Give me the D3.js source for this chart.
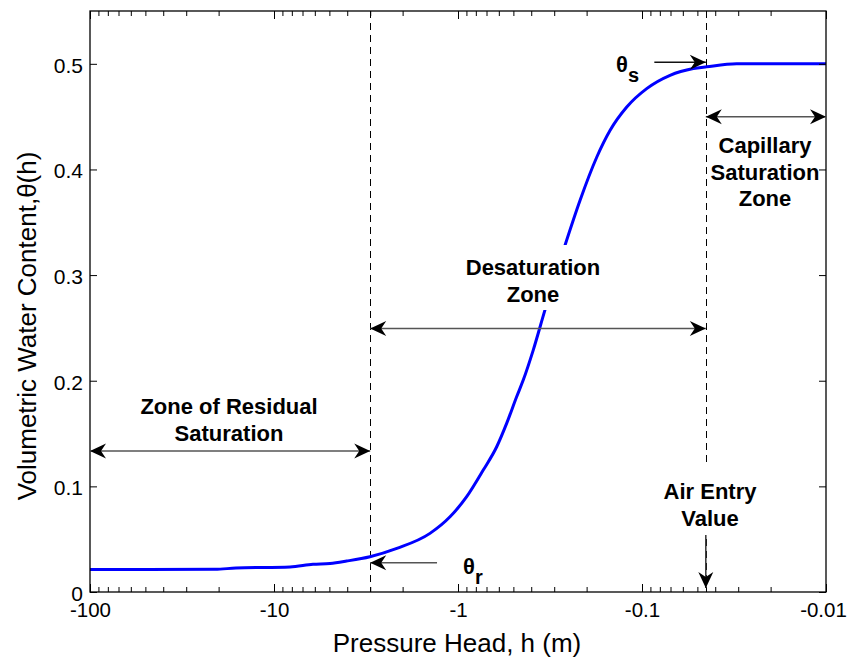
<!DOCTYPE html>
<html><head><meta charset="utf-8">
<script src="https://cdn.jsdelivr.net/npm/d3@7/dist/d3.min.js"></script>
<style>body{margin:0;background:#fff} svg{display:block}</style>
</head><body>
<svg id="c" width="847" height="657"></svg>
<script>
// ---- data ----
const pressureHead = [-100, -20.9, -16.1, -8.18, -6.14, -4.96, -4.03, -3.01, -2.15, -1.42, -1.105, -0.897, -0.729, -0.616, -0.544, -0.480, -0.442, -0.390, -0.337, -0.262, -0.217, -0.176, -0.149, -0.121, -0.0943, -0.0704, -0.0526, -0.0445, -0.0306, -0.01];
const waterContent = [0.0213, 0.0215, 0.0227, 0.0237, 0.0262, 0.0270, 0.0293, 0.0334, 0.0413, 0.0555, 0.0712, 0.0902, 0.1154, 0.1375, 0.1596, 0.1848, 0.2006, 0.2290, 0.2668, 0.3283, 0.3709, 0.4118, 0.4371, 0.4591, 0.4765, 0.4891, 0.4955, 0.4972, 0.5000, 0.5000];
const xTickValues = [-100, -10, -1, -0.1, -0.01];
const xTickLabels = ["-100", "-10", "-1", "-0.1", "-0.01"];
const yTickValues = [0, 0.1, 0.2, 0.3, 0.4, 0.5];
const yTickLabels = ["0", "0.1", "0.2", "0.3", "0.4", "0.5"];
const xDomain = [-100, -0.01];
const yDomain = [0, 0.55];
const residualHead = -3;      // boundary of residual zone
const airEntryHead = -0.045;  // air entry value
const residualArrowLevel = 0.1334;
const desatArrowLevel = 0.2495;
const capillaryArrowLevel = 0.45;
const thetaSLevel = 0.5015;
const thetaRLevel = 0.0277;
const thetaSArrowStart = -0.0857;
const thetaRArrowStart = -1.30;
const airArrowTop = 0.054;

// ---- layout ----
const L = 90, R = 826, T = 11, B = 592;
const svg = d3.select("#c");
const FONT = "'Liberation Sans', Arial, Helvetica, sans-serif";

const xs = d3.scaleLog().domain([-xDomain[0], -xDomain[1]]).range([L, R]);
const X = h => xs(-h);
const Y = d3.scaleLinear().domain(yDomain).range([B, T]);

// dashed boundaries
[residualHead, airEntryHead].forEach(h => {
  const xx = Math.round(X(h)) + 0.5;
  svg.append("line").attr("x1", xx).attr("x2", xx).attr("y1", T).attr("y2", B)
    .attr("stroke", "#000").attr("stroke-width", 1).attr("stroke-dasharray", "7,5");
});

// curve
const pts = pressureHead.map((h, i) => [h, waterContent[i]]);
svg.append("path").datum(pts)
  .attr("d", d3.line().x(d => X(d[0])).y(d => Y(d[1])).curve(d3.curveMonotoneX))
  .attr("fill", "none").attr("stroke", "#0000ff").attr("stroke-width", 3)
  .attr("stroke-linejoin", "round");

// axes
const minor = xs.ticks().filter(v => xTickValues.indexOf(-v) < 0);
function xAxis(gen, y) {
  return svg.append("g").attr("transform", `translate(0,${y})`).call(gen);
}
const axB = xAxis(d3.axisBottom(xs).tickValues(xTickValues.map(v => -v))
  .tickFormat((d, i) => xTickLabels[i]).tickSizeInner(-8).tickSizeOuter(0), B);
axB.selectAll("text").attr("y", 25).attr("dy", 0).attr("font-size", 20.5).attr("font-family", FONT).attr("fill", "#000")
  .attr("dx", (d, i) => i === xTickLabels.length - 1 ? -3 : 0);
xAxis(d3.axisBottom(xs).tickValues(minor).tickFormat("").tickSizeInner(-5).tickSizeOuter(0), B);
xAxis(d3.axisTop(xs).tickValues(xTickValues.map(v => -v)).tickFormat("").tickSizeInner(-8).tickSizeOuter(0), T);
xAxis(d3.axisTop(xs).tickValues(minor).tickFormat("").tickSizeInner(-5).tickSizeOuter(0), T);

const axL = svg.append("g").attr("transform", `translate(${L},0)`)
  .call(d3.axisLeft(Y).tickValues(yTickValues).tickFormat((d, i) => yTickLabels[i]).tickSizeInner(-7).tickSizeOuter(0));
axL.selectAll("text").attr("x", -7).attr("dy", "0.4em").attr("font-size", 21).attr("font-family", FONT).attr("fill", "#000");
svg.append("g").attr("transform", `translate(${R},0)`)
  .call(d3.axisRight(Y).tickValues(yTickValues).tickFormat("").tickSizeInner(-7).tickSizeOuter(0));
svg.selectAll(".domain").remove();
svg.selectAll(".tick line").attr("stroke", "#000");

svg.append("rect").attr("x", L).attr("y", T).attr("width", R - L).attr("height", B - T)
  .attr("fill", "none").attr("stroke", "#000").attr("stroke-width", 1.3);

// axis titles
svg.append("text").attr("x", 457).attr("y", 652).attr("text-anchor", "middle")
  .attr("font-family", FONT).attr("font-size", 26).text("Pressure Head, h (m)");
svg.append("text").attr("transform", "translate(36,326) rotate(-90)").attr("text-anchor", "middle")
  .attr("font-family", FONT).attr("font-size", 26).text("Volumetric Water Content,\u03b8(h)");

// arrows
function head(x, y, ang) {
  svg.append("path").attr("d", "M0,0 L-16,-7.5 L-11,0 L-16,7.5 Z")
    .attr("transform", `translate(${x},${y}) rotate(${ang})`).attr("fill", "#000");
}
function hArrow(h1, h2, th, both, color) {
  const x1 = X(h1), x2 = X(h2), y = Y(th);
  svg.append("line").attr("x1", x1).attr("x2", x2).attr("y1", y).attr("y2", y)
    .attr("stroke", color).attr("stroke-width", 1.5);
  head(x2, y, x2 > x1 ? 0 : 180);
  if (both) head(x1, y, x2 > x1 ? 180 : 0);
}
hArrow(xDomain[0], residualHead, residualArrowLevel, true, "#555");
hArrow(residualHead, airEntryHead, desatArrowLevel, true, "#555");
hArrow(airEntryHead, xDomain[1], capillaryArrowLevel, true, "#555");
hArrow(thetaSArrowStart, airEntryHead, thetaSLevel, false, "#111");
hArrow(thetaRArrowStart, residualHead, thetaRLevel, false, "#555");

// labels
function label(cx, baselines, lines, bg) {
  if (bg) svg.append("rect").attr("x", bg[0]).attr("y", bg[1]).attr("width", bg[2]).attr("height", bg[3]).attr("fill", "#fff");
  lines.forEach((t, i) => svg.append("text").attr("x", cx).attr("y", baselines[i])
    .attr("text-anchor", "middle").attr("font-family", FONT).attr("font-weight", "bold")
    .attr("font-size", 22).text(t));
}
label(229, [414, 441], ["Zone of Residual", "Saturation"]);
label(533, [275, 302], ["Desaturation", "Zone"], [462, 245, 142, 65]);
label(765, [153, 180, 206], ["Capillary", "Saturation", "Zone"]);
label(710, [499, 526], ["Air Entry", "Value"], [655, 463, 110, 72]);

// air entry arrow (vertical)
const ax = X(airEntryHead);
svg.append("line").attr("x1", ax).attr("x2", ax).attr("y1", Y(airArrowTop)).attr("y2", B - 4)
  .attr("stroke", "#333").attr("stroke-width", 1.5);
head(ax, B - 4, 90);

// theta labels
function thetaLabel(x, y, sub) {
  const t = svg.append("text").attr("x", x).attr("y", y).attr("font-family", FONT)
    .attr("font-weight", "bold").attr("font-size", 22);
  t.append("tspan").text("\u03b8");
  t.append("tspan").attr("dy", 10).attr("font-size", 20).text(sub);
}
thetaLabel(616, 72, "s");
thetaLabel(463, 574, "r");
</script>
</body></html>
